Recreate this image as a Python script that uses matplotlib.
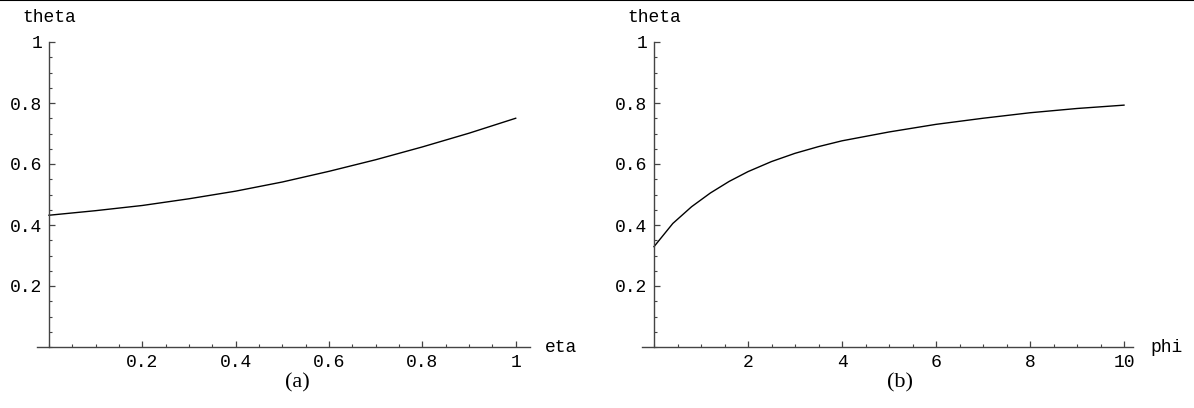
import matplotlib
matplotlib.use("Agg")
import matplotlib.pyplot as plt
import numpy as np
from matplotlib.ticker import FixedLocator, MultipleLocator
from matplotlib.lines import Line2D

# panel (a): theta against eta
eta = [0.0, 0.1, 0.2, 0.3, 0.4, 0.5, 0.6, 0.7, 0.8, 0.9, 1.0]
theta_a = [0.432, 0.447, 0.464, 0.486, 0.511, 0.541, 0.576, 0.614, 0.656, 0.701, 0.75]

# panel (b): theta against phi
phi = [0.0, 0.4, 0.8, 1.2, 1.6, 2.0, 2.5, 3.0, 3.5, 4.0, 5.0, 6.0, 7.0, 8.0, 9.0, 10.0]
theta_b = [0.329, 0.405, 0.460, 0.505, 0.543, 0.575, 0.608, 0.635, 0.657, 0.676,
           0.705, 0.730, 0.750, 0.768, 0.782, 0.793]

xticks_a = [0.2, 0.4, 0.6, 0.8, 1.0]
xlabels_a = ["0.2", "0.4", "0.6", "0.8", "1"]
xticks_b = [2, 4, 6, 8, 10]
xlabels_b = ["2", "4", "6", "8", "10"]
yticks = [0.2, 0.4, 0.6, 0.8, 1.0]
ylabels = ["0.2", "0.4", "0.6", "0.8", "1"]

W, H = 1194, 408
mono = "Liberation Mono"
serif = "Liberation Serif"
axcol = "#444444"

fig = plt.figure(figsize=(W / 100, H / 100), dpi=100)


def make_axes(px_left, px_right, px_zero, scale, xticks, xlabels, minor_step, xname, name_px, tag, tag_px):
    ax = fig.add_axes([px_left / W, (H - 347) / H, (px_right - px_left) / W, 305 / H])
    ax.set_xlim((px_left - px_zero) / scale, (px_right - px_zero) / scale)
    ax.set_ylim(0, 1)
    for s in ["top", "right"]:
        ax.spines[s].set_visible(False)
    ax.spines["left"].set_position(("data", 0))
    for s in ["left", "bottom"]:
        ax.spines[s].set_color(axcol)
        ax.spines[s].set_linewidth(1.0)
    ax.xaxis.set_major_locator(FixedLocator(xticks))
    ax.set_xticklabels(xlabels)
    ax.xaxis.set_minor_locator(MultipleLocator(minor_step))
    ax.yaxis.set_major_locator(FixedLocator(yticks))
    ax.set_yticklabels(ylabels)
    ax.yaxis.set_minor_locator(MultipleLocator(0.05))
    ax.tick_params(which="major", direction="in", length=4, width=0.9, color=axcol,
                   labelsize=13, pad=5)
    ax.tick_params(which="minor", direction="in", length=2, width=0.8, color=axcol)
    for lab in ax.get_xticklabels() + ax.get_yticklabels():
        lab.set_fontfamily(mono)
    ax.text(0, 1 + 25 / 305, "theta", transform=ax.get_xaxis_transform(), ha="center",
            va="center", family=mono, fontsize=13)
    fig.text(name_px / W, 1 - 347 / H, xname, ha="left", va="center", family=mono, fontsize=13)
    fig.text(tag_px / W, 1 - 383 / H, tag, ha="center", va="center", family=serif, fontsize=16)
    ax.patch.set_visible(False)
    return ax


ax1 = make_axes(37, 530, 49, 466.7, xticks_a, xlabels_a, 0.05, "eta", 545, "(a)", 297)
ax1.plot(eta, theta_a, color="black", lw=1.0)

ax2 = make_axes(641.7, 1133, 654, 47.0, xticks_b, xlabels_b, 0.5, "phi", 1150, "(b)", 900)
ax2.plot(phi, theta_b, color="black", lw=1.0)

fig.add_artist(Line2D([0, 1], [0.999, 0.999], transform=fig.transFigure, color="black", lw=1.5))

fig.savefig("out.png", dpi=100)
